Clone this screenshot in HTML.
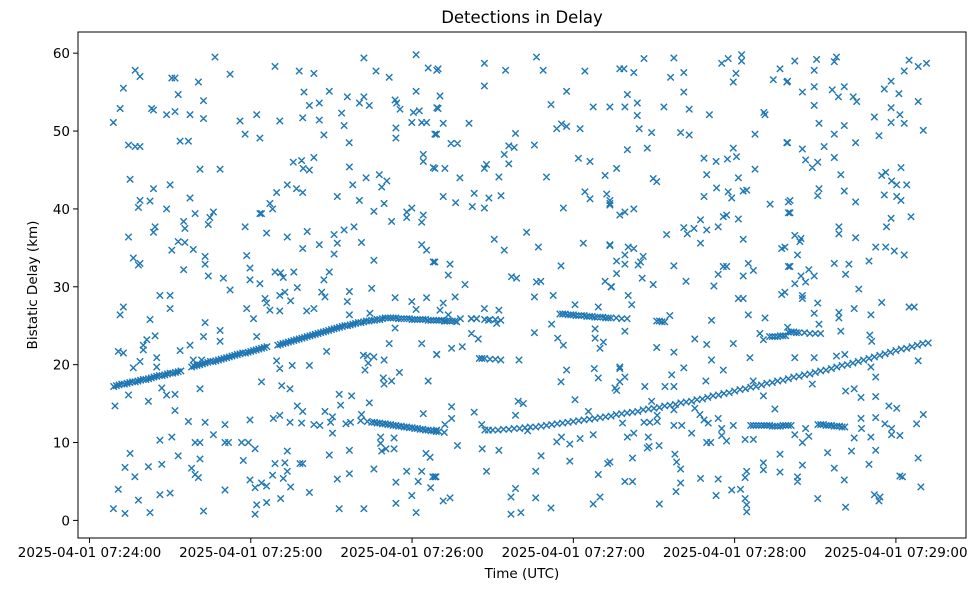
<!DOCTYPE html>
<html><head><meta charset="utf-8"><style>
html,body{margin:0;padding:0;background:#fff;width:979px;height:590px;overflow:hidden}
svg text{font-family:"DejaVu Sans","Liberation Sans",sans-serif;fill:#000}
</style></head><body>
<svg id="chart" width="979" height="590" viewBox="0 0 979 590" xmlns="http://www.w3.org/2000/svg">
<rect width="979" height="590" fill="#fff"/>
<text x="522" y="23" font-size="16.5" text-anchor="middle">Detections in Delay</text>
<g id="marks"></g>
<g id="axes"></g>
<text x="522" y="578" font-size="13.5" text-anchor="middle">Time (UTC)</text>
<text x="0" y="0" font-size="13.5" text-anchor="middle" transform="translate(37,285) rotate(-90)">Bistatic Delay (km)</text>
</svg>
<script>
// x: seconds after 2025-04-01 07:24:00, y: bistatic delay km
const xTickSeconds=[0,60,120,180,240,300];
const xTickLabels=["2025-04-01 07:24:00","2025-04-01 07:25:00","2025-04-01 07:26:00","2025-04-01 07:27:00","2025-04-01 07:28:00","2025-04-01 07:29:00"];
const yTicks=[0,10,20,30,40,50,60];
const trackA=[[9,17.2],[10,17.3],[11,17.4],[12,17.5],[13,17.5],[14,17.6],[15,17.7],[16,17.8],[17,17.8],[18,17.9],[19,18.0],[20,18.1],[21,18.1],[22,18.2],[23,18.3],[24,18.4],[25,18.5],[26,18.6],[27,18.6],[28,18.7],[29,18.8],[30,18.9],[31,18.9],[32,19.0],[33,19.1],[34,19.2],
[38,19.7],[39,19.8],[40,19.9],[41,20.0],[42,20.1],[43,20.2],[44,20.3],[45,20.4],[46,20.4],[47,20.5],[48,20.6],[49,20.7],[50,20.8],[51,20.9],[52,21.0],[53,21.1],[54,21.2],[55,21.3],[56,21.4],[57,21.5],[58,21.5],[59,21.6],[60,21.7],[61,21.8],[62,21.9],[63,22.0],[64,22.1],[65,22.2],[66,22.3],
[70,22.5],[71,22.6],[72,22.7],[73,22.8],[74,22.9],[75,23.0],[76,23.1],[77,23.2],[78,23.3],[79,23.4],[80,23.5],[81,23.6],[82,23.7],[83,23.8],[84,23.9],[85,24.0],[86,24.1],[87,24.2],[88,24.3],[89,24.4],[90,24.5],[91,24.6],[92,24.7],[93,24.8],[94,24.9],[95,25.0],[96,25.0],[97,25.1],[98,25.2],[99,25.3],[100,25.4],[101,25.4],[102,25.5],[103,25.6],[104,25.6],[105,25.7],[106,25.7],[107,25.8],[108,25.8],[109,25.9],[110,26.0],
[111,26.0],[112,26.0],[113,26.0],[114,26.0],[115,25.9],[116,25.9],[117,25.9],[118,25.9],[119,25.9],[120,25.8],[121,25.8],[122,25.8],[123,25.8],[124,25.8],[125,25.8],[126,25.7],[127,25.7],[128,25.7],[129,25.7],[130,25.7],[131,25.7],[132,25.6],[133,25.6],[134,25.6],[135,25.6],[136,25.6]];
const trackB=[[105,12.6],[106,12.6],[107,12.5],[108,12.5],[109,12.4],[110,12.4],[111,12.3],[112,12.3],[113,12.2],[114,12.2],[115,12.1],[116,12.1],[117,12.0],[118,12.0],[119,11.9],[120,11.9],[121,11.8],[122,11.8],[123,11.7],[124,11.7],[125,11.6],[126,11.6],[127,11.5],[128,11.5],[129,11.4],[130,11.4],[132,11.3]];
const trackC=[[150,11.6],[152,11.6],[154,11.7],[156,11.7],[158,11.8],[160,11.8],[162,11.9],[164,12.0],[166,12.0],[168,12.1],[170,12.2],[172,12.3],[174,12.4],[176,12.5],[178,12.6],[180,12.7],[182,12.8],[184,12.9],[186,13.0],[188,13.1],[190,13.2],[192,13.3],[194,13.4],[196,13.6],[198,13.7],[200,13.8],[202,13.9],[204,14.0],[206,14.2],[208,14.3],[210,14.4],[212,14.5],[214,14.7],[216,14.8],[218,14.9],[220,15.1],[222,15.2],[224,15.3],[226,15.5],[228,15.6],[230,15.8],[232,16.0],[234,16.1],[236,16.3],[238,16.4],[240,16.6],[242,16.8],[244,16.9],[246,17.1],[248,17.2],[250,17.4],[252,17.6],[254,17.7],[256,17.9],[258,18.0],[260,18.2],[262,18.4],[264,18.5],[266,18.7],[268,18.8],[270,19.0],[272,19.2],[274,19.3],[276,19.5],[278,19.7],[280,19.9],[282,20.0],[284,20.2],[286,20.4],[288,20.6],[290,20.8],[292,21.0],[294,21.2],[296,21.4],[298,21.6],[300,21.8],[302,22.0],[304,22.1],[306,22.3],[308,22.5],[310,22.7],[312,22.8]];
const segments=[[175,26.5],[176,26.5],[177,26.5],[178,26.4],[179,26.4],[180,26.4],[181,26.3],[182,26.3],[183,26.3],[184,26.3],[185,26.2],[186,26.2],[187,26.2],[188,26.1],[189,26.1],[190,26.1],[191,26.1],[192,26.0],[193,26.0],[194,26.0],[196,26.0],[198,25.9],[200,25.9],
[211,25.6],[212,25.6],[213,25.5],[214,25.5],
[253,23.6],[254,23.6],[255,23.6],[256,23.6],[257,23.7],[258,23.7],[259,23.7],[260,24.2],[261,24.2],[262,24.2],[263,24.1],[264,24.1],[266,24.1],[268,24.0],[270,24.0],[272,24.0],
[246,12.2],[247,12.2],[248,12.2],[249,12.2],[250,12.2],[251,12.2],[252,12.2],[253,12.2],[254,12.1],[255,12.1],[256,12.1],[257,12.1],[258,12.2],[259,12.2],[260,12.2],[261,12.2],[271,12.3],[272,12.3],[273,12.3],[274,12.2],[275,12.2],[276,12.2],[277,12.1],[278,12.1],[279,12.1],[280,12.0],[281,12.0],
[145,20.8],[146,20.8],[147,20.8],[149,20.7],[151,20.7],[153,20.6],
[138,25.9],[142,25.9],[144,25.9],[147,25.8],[149,25.8],[151,25.8],[153,25.7]];
const noise=[[8.9,51.1],[12.6,55.5],[11.4,52.9],[17,57.8],[18.8,57],[14.5,48.2],[17,48],[18.8,48],[15.1,43.8],[23.1,52.9],[23.8,52.7],[28.7,52.1],[31.8,52.5],[30.6,56.8],[31.8,56.8],[33,54.7],[40.5,56.3],[42.4,53.9],[37.4,52.1],[42.4,51.6],[46.7,59.5],[52.3,57.3],[56,51.3],[57.9,49.6],[62.2,52.1],[63.4,49.1],[33.7,48.7],[36.8,48.7],[41.1,45.1],[48.6,45.1],[23.8,42.6],[30,43.1],[18.8,41.1],[22.5,41],[18.2,40.2],[28.7,40],[37.4,41.4],[39.3,39.4],[46.1,39.6],[44.8,38.9],[44.2,38],[35,38.4],[35.5,37.5],[24.4,37.7],[23.8,37],[14.5,36.4],[57.9,37.7],[63.4,39.4],[30.6,34.7],[33,35.8],[35.5,35.7],[38.6,34.8],[16.3,33.7],[18.2,32.8],[18.8,33],[43,33.9],[43,32.9],[44.2,31.4],[35,32.2],[49.8,31.1],[52.3,29.6],[58.5,34],[59.7,32.4],[59.7,30.9],[26.2,28.9],[30,28.9],[30,27.2],[12.6,27.4],[11.4,26.4],[22.5,25.8],[43,25.4],[58.5,27.2],[61,25.9],[48.6,24.4],[48.6,23],[42.4,23.6],[24.4,23.7],[21.3,23.2],[20,22.5],[20,21.9],[10.7,21.7],[12.6,21.5],[33.7,21.8],[37.4,22.5],[16.3,19.6],[18.8,20.4],[25,20.9],[25,19.7],[38.6,20.6],[41.7,20.6],[62.2,23.6],[14.5,16.1],[21.9,15.3],[26.9,17],[28.7,16.1],[31.8,16.2],[41.1,16.9],[9.5,14.7],[31.8,14.1],[36.8,12.7],[43,12.6],[50.4,12.3],[59.7,12.9],[64,17.8],[26.2,10.3],[30.6,10.7],[39.3,10],[41.1,10],[46.1,11],[50.4,10],[51.7,10],[56.6,10],[59.1,10],[61.6,9.2],[15.1,8.6],[13.2,6.8],[16.9,5.6],[21.9,6.9],[26.9,7.2],[33,8.3],[41.1,7.9],[38,6.7],[39.3,5.9],[40.5,5.5],[57.2,7.7],[10.7,4],[59.7,5.2],[61.6,4.2],[18.2,2.6],[26.2,3.3],[30,3.5],[50.4,3.9],[8.9,1.5],[13.2,0.9],[22.5,1],[42.4,1.2],[62.2,2],[61.6,0.8],
[69,58.3],[78,57.7],[83.5,57.4],[102.1,59.4],[106.6,57.7],[111.5,56.9],[121.5,59.8],[126,58.1],[129.2,57.8],[79.8,55],[89.2,55.1],[81.8,53.3],[85.5,53.6],[95.9,54.4],[100.4,53.6],[102.1,54.4],[104.1,53.3],[113.7,54],[114.3,53.6],[115.5,52.8],[121.5,55.1],[120.5,52.4],[122.7,52.6],[129.2,53],[70.8,51.3],[79.3,51.7],[85.5,51.4],[93.8,52.3],[94.7,50.7],[87.2,49.5],[96.6,48.5],[114,50.4],[114,49.1],[119.9,51.1],[123.6,51.1],[125.4,51.1],[128.5,49.6],[75.8,46],[78.9,46.2],[79.5,45.2],[81.8,45],[83.5,46.6],[96.7,45.4],[124.2,47],[124.2,46.1],[127.9,45.3],[73.6,43.1],[69.6,42.1],[77,42.6],[79.3,42.1],[97.9,43.1],[102.9,44],[107.8,44.4],[108.7,42.8],[110.6,43.6],[92.2,41.6],[100.4,41.1],[109.6,40.7],[105.8,39.7],[112.4,38.4],[118,39.6],[119.9,40.1],[118,38.9],[124.2,39.2],[123.6,38.3],[67.1,40.7],[68.1,40],[64,39.4],[65.9,36.9],[73.6,36.4],[81,37.1],[79.3,34.9],[85.5,35.4],[91,36.7],[92.2,35.6],[91,34.2],[94.7,37.3],[98.4,37.7],[101.2,35.7],[105.8,33.4],[123.6,35.4],[125.4,34.7],[127.9,33.2],[69,31.9],[71.1,31.8],[72.1,31.2],[76,31.9],[63.4,30.4],[65.3,28.5],[65.9,27.9],[67.1,27],[70.8,28.9],[72.7,29.3],[74.8,28.2],[77.3,29.9],[70.8,26.9],[80.8,26.9],[83.5,27.2],[87.2,30.9],[89.2,31.9],[86.4,29.3],[87.6,28.7],[96.7,29.4],[95.9,28.1],[96.7,26.4],[105,29.8],[104.3,26.6],[113.7,28.6],[119.9,28.1],[121.5,27.1],[125.4,28.6],[113.7,24.7],[88.2,21.7],[111.5,22.7],[123.6,22.7],[129.2,21.3],[69.6,20.5],[70.8,19.5],[75.4,19.9],[81.8,19.9],[101.9,21.2],[103.4,21.1],[103.7,20.2],[102.5,19.3],[105.8,21],[109.6,20.6],[109.3,18.3],[109.6,17.5],[112.4,17.9],[115.3,19],[126,17.9],[64,17.8],[71.5,17.3],[74.6,16.9],[92.9,16.2],[97.5,16],[93.4,14.8],[104.1,15.1],[124.2,13.7],[77.3,14.7],[79.3,14],[87.6,14],[90.4,13.3],[68.4,13.1],[70.8,13.5],[74.6,12.6],[78.9,12.5],[83.5,12.3],[85.7,12.2],[89.7,12.6],[90.4,11.2],[95.4,12.4],[97.1,12.6],[101.2,13.6],[103.4,12.7],[100.9,12.8],[108.3,10.7],[108.3,9.9],[110.3,9.2],[108.7,8.9],[113.3,10.6],[113.3,9.2],[73.6,8.9],[89.2,8.4],[96.7,9],[125.2,8.6],[126.7,8.1],[69,7.3],[72.7,7.4],[78.3,7.3],[79.3,7.3],[73.6,6.3],[68.1,5.8],[72.1,5.4],[74.8,4.3],[64,4.8],[65.9,4.4],[81.8,3.6],[92.2,5.3],[96.7,6],[105.8,6.6],[114,4.9],[118,6.3],[123.6,6.3],[122.3,5],[127.7,5.6],[128.9,5.6],[126.9,4.2],[119.9,3.2],[65.9,2.3],[71.1,2.8],[92.9,1.5],[102.1,1.5],[114,2.2],[121.5,1],
[129.7,58],[146.9,58.7],[146.9,55.8],[154.8,57.8],[166.3,59.5],[168.8,57.8],[184.3,57.7],[177.5,55.1],[171.7,53.4],[187.4,53.1],[193.6,53.1],[130.4,54.5],[129.7,52.9],[131.6,51],[141.2,51],[129.1,49.6],[134.5,48.4],[136.9,48.4],[158.5,49.7],[156,48.1],[158,47.9],[154.3,47],[156,45.8],[165.5,48.2],[173.8,50.3],[175.6,50.9],[177.5,50.6],[182.5,50.3],[181.9,46.5],[186.2,46.1],[128.5,45.2],[132.2,45.2],[137.8,44],[146.9,45.2],[147.7,45.7],[152.3,44.1],[170,44.1],[191.8,44.3],[131.6,41.6],[136.2,40.8],[143.1,42],[148.6,41.4],[153.1,41.7],[142.4,40.3],[146.9,40.1],[176.3,40.1],[184.3,42.2],[186.2,41.3],[192.4,41.9],[193.6,40.7],[150.6,36.1],[154.3,34.7],[162.6,37],[167,35.1],[183.7,35.6],[193.6,35.4],[134.1,32.9],[133.5,31.5],[128.5,33.2],[139.7,30.3],[157,31.3],[158.9,31.1],[166.3,30.6],[167.9,30.7],[165.5,28.7],[172.5,28.9],[175.4,32.7],[191.8,30.7],[194,30],[131.6,27.9],[136,28.7],[130.4,27],[133.5,26.4],[136.6,25.5],[132.2,25.6],[142.1,25.9],[144,25.9],[146.9,27.2],[148.4,25.7],[152.3,27],[151.5,25.3],[180.6,27.7],[189.3,27.4],[142.1,24],[144.6,23.3],[138.7,22.3],[134.7,22.1],[129.1,21.3],[165.5,24.1],[171.9,25.2],[174.2,23.4],[176.3,22.5],[188.1,24.6],[188.1,23.4],[189.9,22.1],[191.2,22.9],[159.8,20.6],[177.5,19.3],[175.4,17.8],[187.8,19.5],[189.3,18.3],[195.5,17],[134.7,14.6],[134.7,13.1],[132.2,12.3],[143.1,13.9],[159.5,15.3],[161.4,15],[158.5,13.5],[180.6,15.5],[185.6,14],[129.1,11.6],[145.9,12.3],[147.1,11.6],[148.4,11.6],[136.9,9.6],[146.1,9.2],[152.3,9.0],[163,11.5],[173.8,10.1],[175.6,10.7],[178.7,9.8],[182.5,10.5],[187.4,11],[168,8.3],[178.7,7.6],[192.8,7.3],[189.3,5.9],[128.5,5.6],[147.7,6.3],[166,6.3],[131.6,2.5],[134.1,2.9],[156.8,3],[158.5,4.1],[166,2.9],[171.7,1.6],[187.4,2.1],[189.9,3],[156.8,0.8],[160.5,1],
[206.3,59.3],[217.4,59.4],[197.3,58],[198.8,58],[202.5,57.5],[216.2,56.9],[221.1,57.5],[221.1,55],[235.2,58.7],[237.6,59.3],[242.6,59.8],[242.6,59],[240.5,57.4],[239.5,56.3],[256.9,58],[254.4,56.6],[259.4,56.3],[200.1,54.7],[193.6,53.1],[199.2,53.1],[203.8,53.6],[203.8,52],[213.7,53.1],[223.1,52.8],[230.6,52.1],[250.9,52.4],[251.3,52.1],[204.5,50.3],[209.1,49.8],[219.9,49.8],[223.1,49.5],[200.1,47.6],[207.5,47.8],[247.6,49.6],[259.4,48.5],[196.1,45.2],[209.7,43.9],[211,43.5],[228.6,46.5],[233.1,46.1],[229.6,44.4],[237.3,46.4],[239.5,47.8],[240.7,46.7],[241.4,44],[247.6,45.1],[193.6,41.1],[193.6,40.5],[197.3,39.2],[199.2,39.6],[202.5,40],[228.6,41.6],[233.3,42.7],[237.6,42.2],[238.9,41.4],[243.2,42.3],[244.5,42.4],[253.2,40.6],[260,40.9],[260,39.5],[214.7,36.7],[221.1,37.6],[222.4,36.8],[224.9,37.5],[227.3,38.6],[229.6,37.3],[227.3,35.6],[233.9,37.7],[235.8,39],[237,39.2],[241.4,38.7],[243.2,36.1],[257.5,34.9],[193.6,35.3],[200.4,35.1],[202.5,34.9],[199.2,34.1],[196.1,33.3],[199.2,32.9],[205,33.2],[206,33.9],[204.1,32.8],[196.1,31.7],[194.2,30],[200.4,28.9],[201.7,27.7],[199.2,24.3],[205.6,31.1],[209.7,30.3],[217.4,32.7],[221.9,30.7],[232.3,30.1],[233.9,31.6],[235.8,32.6],[237,32.6],[243.2,31.4],[245.1,33],[247,32.1],[260,32.6],[257.5,29],[241.4,28.5],[243.2,28.5],[245.1,26.4],[251.3,26],[231.4,25.7],[215.9,26.3],[249.4,24],[250.7,23.2],[225.2,23.3],[229.6,22.6],[239.5,22.7],[211,22.2],[217.4,21.6],[245.7,20.9],[231.4,20.6],[235.8,19.3],[197.3,19.7],[197.3,19.5],[199.2,18.4],[197.3,17.8],[196.1,16.7],[221.1,19.6],[216.6,18.7],[206.6,17.2],[214.1,17.2],[217.4,17.2],[229.3,17.9],[246.9,17.9],[250.7,16],[255,14.3],[209.1,15.3],[198.3,12.5],[206.3,12.6],[208.5,12.6],[211.2,12.7],[211.2,13.5],[217.4,12.2],[220.3,12.2],[224,11.2],[228.6,12.9],[230.2,12.5],[233.9,13.1],[235.2,11.8],[239.5,12.2],[200.1,10.7],[202.5,11.2],[207.9,10.7],[208.2,9.5],[207.5,9.3],[211.9,9.6],[217.4,14.2],[225.2,14.4],[227.1,13.6],[229.6,10],[231.1,10],[235.2,10.9],[237,10.2],[243.9,10.4],[247,10.4],[202,8],[217.8,8.5],[218.4,7.5],[219.9,6.6],[193.6,7.5],[199.2,5],[202,5],[219.9,4.8],[218.2,3.7],[227.3,5.4],[233.9,5.3],[233.1,3.2],[238.9,3.9],[242.2,4],[244.5,6.3],[243.9,5.5],[250.7,7.4],[250.7,6.5],[256.9,8.5],[256.9,6.2],[243.9,2.8],[244.5,2],[244.5,1.1],[212,2.1],
[262.4,59],[270.5,59.2],[269.6,57.8],[277.1,58.9],[277.9,59.5],[259.7,56.4],[304.9,59.1],[303.1,57.7],[308.3,58.3],[311.4,58.7],[298.2,56.4],[295.7,55.4],[265.2,55],[269.6,55.7],[276.3,55.3],[278.6,54.4],[280.8,55.7],[284.1,54.4],[285.4,53.8],[269.6,53.3],[301.1,54.8],[308.3,53.8],[298.2,53],[301.5,52.1],[298.2,51.1],[303.1,51],[310.2,50.1],[292,51.8],[293.7,49.4],[271.4,51],[277.1,49.6],[280.8,50.7],[285,48.5],[259.7,48.5],[265.2,47.7],[273.3,48],[277.1,46.6],[266.4,46.3],[268.9,45.3],[270.9,46],[279.5,44.4],[294.7,44.3],[296.2,44.7],[298.4,43.6],[300.3,43.1],[304,43.1],[301.9,45.3],[280.8,42.3],[271.4,42.6],[270.9,41.7],[285,40.9],[295.7,41.8],[300.3,41.6],[301.9,41.1],[260.6,41.1],[260.6,39.5],[305.6,39],[298.2,38.8],[296.5,37.7],[278.8,37.7],[278.8,36.8],[285,36.3],[262.4,36.6],[264.7,36.2],[264.3,35.8],[292.5,35.1],[296.2,35.1],[299.4,34.6],[303.1,34.1],[258.7,35.1],[263.4,34.1],[260.6,32.6],[277.1,33],[282.5,32.9],[281.3,31.6],[290,33.3],[264.7,31.4],[267.6,32.2],[269.6,31.4],[262.4,30.4],[266.4,30.6],[265.2,28.9],[265.2,28.5],[286.2,29.7],[258.7,29.3],[270.9,27.9],[269.6,26.6],[278.8,26.7],[278.8,26],[284.5,27.2],[290.7,26.4],[294.7,28],[304.9,27.4],[306.8,27.4],[271.4,25.2],[279.5,24.3],[290.3,23.8],[291,23],[259.7,24.8],[262.4,20.9],[269.6,20.9],[277.9,21.1],[281,21.3],[308.3,20.5],[268.9,17.5],[292.5,18.4],[290.7,19.7],[281.3,16.6],[284.5,16.9],[287,15.8],[292.5,15.9],[297.4,14.7],[300.3,14.4],[310.2,13.6],[307.7,12.4],[295.9,12.4],[298.4,11.8],[298.4,11],[301.5,10.9],[292.5,13.2],[262.4,11],[266.4,11.8],[265.2,10],[267.6,10.8],[287,13.1],[287.2,11.8],[284.5,10.6],[290.7,10.7],[274.6,8.7],[283.5,8.9],[292.5,9],[308.3,8],[265.2,7.1],[277.1,6.7],[290,7.2],[280.8,5.2],[263.4,5.6],[263.4,5],[301.5,5.7],[302.4,5.6],[309.3,4.3],[270.9,2.8],[281.3,1.7],[292,3.3],[294.1,3],[293.7,2.5]];

const NS='http://www.w3.org/2000/svg';
const L=78,R=966,T=32,B=538;
function xScale(s){return 89.5+s*2.688;}
function yScale(v){return 520.4-v*7.787;}
const marks=document.getElementById('marks');
function drawSeries(arr,name){
  let d='';
  for(const p of arr){
    const x=xScale(p[0]),y=yScale(p[1]),h=3.2;
    d+='M'+(x-h).toFixed(1)+' '+(y-h).toFixed(1)+'L'+(x+h).toFixed(1)+' '+(y+h).toFixed(1)+'M'+(x-h).toFixed(1)+' '+(y+h).toFixed(1)+'L'+(x+h).toFixed(1)+' '+(y-h).toFixed(1);
  }
  const path=document.createElementNS(NS,'path');
  path.setAttribute('d',d);
  path.setAttribute('stroke','#1f77b4');
  path.setAttribute('stroke-width','1.4');
  path.setAttribute('fill','none');
  
  
  marks.appendChild(path);
}
drawSeries(noise,'noise-detections');
drawSeries(trackA,'track-a-detections');
drawSeries(trackB,'track-b-detections');
drawSeries(trackC,'track-c-detections');
drawSeries(segments,'segment-detections');

const axes=document.getElementById('axes');
const frame=document.createElementNS(NS,'rect');
frame.setAttribute('x',L);frame.setAttribute('y',T);frame.setAttribute('width',R-L);frame.setAttribute('height',B-T);
frame.setAttribute('fill','none');frame.setAttribute('stroke','#000');frame.setAttribute('stroke-width','1');


axes.appendChild(frame);
yTicks.forEach(v=>{
  const y=yScale(v);
  const ln=document.createElementNS(NS,'line');
  ln.setAttribute('x1',L-5);ln.setAttribute('x2',L);ln.setAttribute('y1',y);ln.setAttribute('y2',y);ln.setAttribute('stroke','#000');
  
  
  axes.appendChild(ln);
  const t=document.createElementNS(NS,'text');
  t.setAttribute('x',L-8);t.setAttribute('y',y+5);t.setAttribute('font-size','13.5');t.setAttribute('text-anchor','end');
  t.textContent=String(v);
  
  
  axes.appendChild(t);
});
xTickSeconds.forEach((s,i)=>{
  const x=xScale(s);
  const ln=document.createElementNS(NS,'line');
  ln.setAttribute('x1',x);ln.setAttribute('x2',x);ln.setAttribute('y1',B);ln.setAttribute('y2',B+5);ln.setAttribute('stroke','#000');
  
  
  axes.appendChild(ln);
  const t=document.createElementNS(NS,'text');
  t.setAttribute('x',x);t.setAttribute('y',B+19);t.setAttribute('font-size','13.5');t.setAttribute('text-anchor','middle');
  t.textContent=xTickLabels[i];
  
  
  axes.appendChild(t);
});
</script>
</body></html>
